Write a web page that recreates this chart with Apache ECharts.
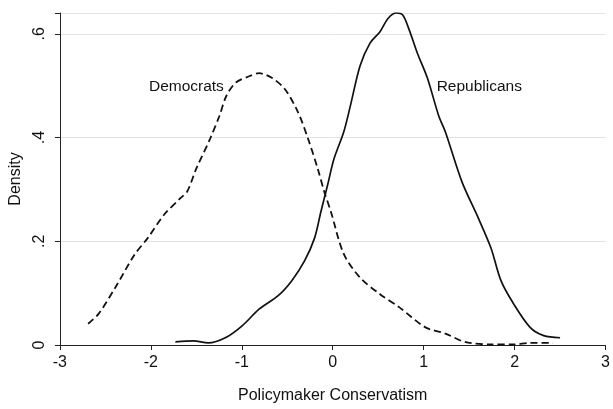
<!DOCTYPE html>
<html>
<head>
<meta charset="utf-8">
<script src="https://cdn.jsdelivr.net/npm/echarts@6/dist/echarts.min.js"></script>
<style>
html,body{margin:0;padding:0;background:#fff;}
#chart{width:613px;height:409px;}
</style>
</head>
<body>
<div id="chart"></div>
<script>
// Policymaker conservatism (x) and kernel density (y)
const demX = [-2.69,-2.575,-2.39,-2.18,-2.035,-1.855,-1.675,-1.60,-1.50,-1.35,-1.245,-1.17,-1.065,-0.92,-0.81,-0.67,-0.525,-0.38,-0.27,-0.165,-0.094,-0.02,0.12,0.30,0.52,0.73,1.02,1.24,1.45,1.74,1.99,2.17,2.42];
const demY = [0.041,0.060,0.111,0.174,0.206,0.251,0.283,0.296,0.340,0.397,0.442,0.480,0.506,0.518,0.524,0.515,0.493,0.448,0.397,0.340,0.296,0.257,0.176,0.130,0.098,0.073,0.034,0.022,0.006,0.001,0.001,0.004,0.004];
const repX = [-1.73,-1.53,-1.37,-1.17,-0.99,-0.81,-0.60,-0.45,-0.31,-0.20,-0.13,-0.057,0.014,0.12,0.19,0.30,0.41,0.52,0.61,0.70,0.77,0.84,0.93,1.04,1.165,1.24,1.42,1.60,1.74,1.85,1.99,2.17,2.32,2.50];
const repY = [0.006,0.008,0.004,0.015,0.038,0.069,0.095,0.124,0.162,0.206,0.257,0.308,0.359,0.410,0.458,0.538,0.582,0.604,0.630,0.640,0.636,0.608,0.563,0.515,0.442,0.410,0.315,0.245,0.187,0.124,0.079,0.034,0.018,0.014];
const seriesNames = ['Democrats','Republicans'];
const xTicks = [-3,-2,-1,0,1,2,3];
const yTicks = [0,0.2,0.4,0.6];
const xTitle = 'Policymaker Conservatism';
const yTitle = 'Density';

const zip = (xs, ys) => xs.map((x, i) => [x, ys[i]]);
const FONT = '"Liberation Sans", Arial, Helvetica, sans-serif';

const chart = echarts.init(document.getElementById('chart'), null, {renderer: 'canvas'});
chart.setOption({
  animation: false,
  backgroundColor: '#fff',
  grid: {left: 54, right: 3, top: 13, bottom: 61, containLabel: false},
  xAxis: {
    type: 'value', min: xTicks[0], max: xTicks[xTicks.length-1], interval: 1,
    name: xTitle, nameLocation: 'middle', nameGap: 43,
    nameTextStyle: {fontFamily: FONT, fontSize: 16, color: '#111'},
    axisLine: {show: true, onZero: false, lineStyle: {color: '#222', width: 1}},
    axisTick: {show: true, length: 5, lineStyle: {color: '#222'}},
    axisLabel: {fontFamily: FONT, fontSize: 16, color: '#111', margin: 10,
      formatter: v => String(v)},
    splitLine: {show: false}
  },
  yAxis: {
    type: 'value', min: 0, max: 0.64, interval: 0.2,
    name: yTitle, nameLocation: 'middle', nameGap: 35, nameRotate: 90,
    nameTextStyle: {fontFamily: FONT, fontSize: 16, color: '#111'},
    axisLine: {show: true, onZero: false, lineStyle: {color: '#222', width: 1}},
    axisTick: {show: true, length: 5, lineStyle: {color: '#222'}},
    axisLabel: {fontFamily: FONT, fontSize: 16, color: '#111', rotate: 90, margin: 12,
      formatter: v => {
        const t = yTicks.find(k => Math.abs(k - v) < 1e-9);
        if (t === undefined) return '';
        return t === 0 ? '0' : String(t).replace(/^0/, '');
      }},
    splitLine: {show: true, lineStyle: {color: '#e3e3e3', width: 1}}
  },
  series: [
    {
      name: seriesNames[0], type: 'line', data: zip(demX, demY),
      smooth: 0.3, showSymbol: false, symbol: 'none',
      lineStyle: {color: '#111', width: 1.8, type: [7, 4]},
      markPoint: {
        symbol: 'circle', symbolSize: 0, silent: true,
        data: [{coord: [-1.197, 0.4988], value: seriesNames[0]}],
        label: {show: true, position: 'inside', align: 'right', verticalAlign: 'middle',
          formatter: seriesNames[0], fontFamily: FONT, fontSize: 15.5, color: '#111'}
      }
    },
    {
      name: seriesNames[1], type: 'line', data: zip(repX, repY),
      smooth: 0.3, showSymbol: false, symbol: 'none',
      lineStyle: {color: '#111', width: 1.7, type: 'solid'},
      markPoint: {
        symbol: 'circle', symbolSize: 0, silent: true,
        data: [{coord: [1.143, 0.4988], value: seriesNames[1]}],
        label: {show: true, position: 'inside', align: 'left', verticalAlign: 'middle',
          formatter: seriesNames[1], fontFamily: FONT, fontSize: 15.5, color: '#111'}
      }
    }
  ]
});
</script>
</body>
</html>
